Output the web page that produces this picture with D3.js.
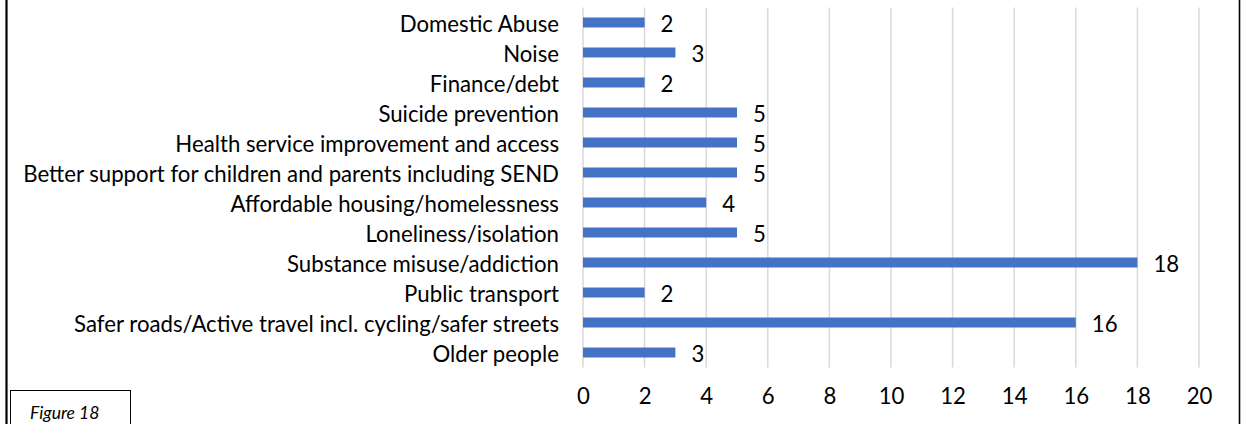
<!DOCTYPE html>
<html>
<head>
<meta charset="utf-8">
<script src="https://cdn.jsdelivr.net/npm/d3@7"></script>
<style>
  html, body { margin: 0; padding: 0; background: #fff; }
  svg { display: block; }
  text { font-family: Lato, "Open Sans", sans-serif; fill: #000; }
</style>
</head>
<body>
<svg id="chart" width="1241" height="424"></svg>
<script>
// Issues raised, with number of mentions (top to bottom as shown)
const categories = [
  "Domestic Abuse",
  "Noise",
  "Finance/debt",
  "Suicide prevention",
  "Health service improvement and access",
  "Better support for children and parents including SEND",
  "Affordable housing/homelessness",
  "Loneliness/isolation",
  "Substance misuse/addiction",
  "Public transport",
  "Safer roads/Active travel incl. cycling/safer streets",
  "Older people"
];
const values = [2, 3, 2, 5, 5, 5, 4, 5, 18, 2, 16, 3];
const xTicks = [0, 2, 4, 6, 8, 10, 12, 14, 16, 18, 20];
const figureLabel = "Figure 18";

const FONT = 'Lato, "Open Sans", sans-serif';
const svg = d3.select("#chart");
const W = 1241, H = 424;
const plot = { left: 583, right: 1199, top: 7.5, bottom: 367.5 };

const x = d3.scaleLinear().domain([0, 20]).range([plot.left, plot.right]);
const y = d3.scaleBand().domain(categories).range([plot.top, plot.bottom]).paddingInner(0.667).paddingOuter(0.333);

// Page frame: vertical rules on both sides
svg.append("line").attr("x1", 6.5).attr("x2", 6.5).attr("y1", 0).attr("y2", H)
  .attr("stroke", "#000").attr("stroke-width", 2.2);
svg.append("line").attr("x1", 1239.5).attr("x2", 1239.5).attr("y1", 0).attr("y2", H)
  .attr("stroke", "#000").attr("stroke-width", 1.6);

// Vertical gridlines
svg.append("g").selectAll("line").data(xTicks).join("line")
  .attr("x1", d => x(d)).attr("x2", d => x(d))
  .attr("y1", plot.top).attr("y2", plot.bottom)
  .attr("stroke", "#d9d9d9").attr("stroke-width", 1.5);

// Bars
svg.append("g").selectAll("rect").data(categories).join("rect")
  .attr("x", x(0))
  .attr("y", d => y(d))
  .attr("width", (d, i) => x(values[i]) - x(0))
  .attr("height", y.bandwidth())
  .attr("fill", "#4472c4");

// X axis tick labels
const xAxis = d3.axisBottom(x).tickValues(xTicks).tickSize(0).tickPadding(0);
const gx = svg.append("g").attr("transform", `translate(0,${plot.bottom})`).call(xAxis);
gx.select(".domain").remove();
gx.selectAll("text")
  .attr("dy", null).attr("y", 0)
  .attr("transform", "translate(0,36)")
  .style("font-family", FONT)
  .style("font-size", "18px").attr("fill", "#000");

// Category labels
const yAxis = d3.axisLeft(y).tickSize(0).tickPadding(0);
const gy = svg.append("g").attr("transform", `translate(559,0)`).call(yAxis);
gy.select(".domain").remove();
gy.selectAll("text")
  .style("font-family", FONT)
  .style("font-size", "18px").attr("fill", "#000")
  .attr("dy", "0.42em");

// Scale category label font so the longest label spans its measured width
let longest = 0;
gy.selectAll("text").each(function () { longest = Math.max(longest, this.getComputedTextLength()); });
const catSize = 18 * 536 / longest;
gy.selectAll("text").style("font-size", catSize + "px");
gx.selectAll("text").style("font-size", catSize + "px");

// Value labels
svg.append("g").selectAll("text").data(categories).join("text")
  .attr("x", (d, i) => x(values[i]) + 16)
  .attr("y", d => y(d) + y.bandwidth() / 2 + 1)
  .attr("dy", "0.38em")
  .style("font-size", catSize + "px")
  .text((d, i) => values[i]);

// Figure caption box
svg.append("rect").attr("x", 10.5).attr("y", 390.5).attr("width", 120).attr("height", 40)
  .attr("fill", "#fff").attr("stroke", "#000").attr("stroke-width", 1);
svg.append("text").attr("x", 30).attr("y", 419)
  .style("font-size", "17.5px").style("font-style", "italic")
  .text(figureLabel);
</script>
</body>
</html>
